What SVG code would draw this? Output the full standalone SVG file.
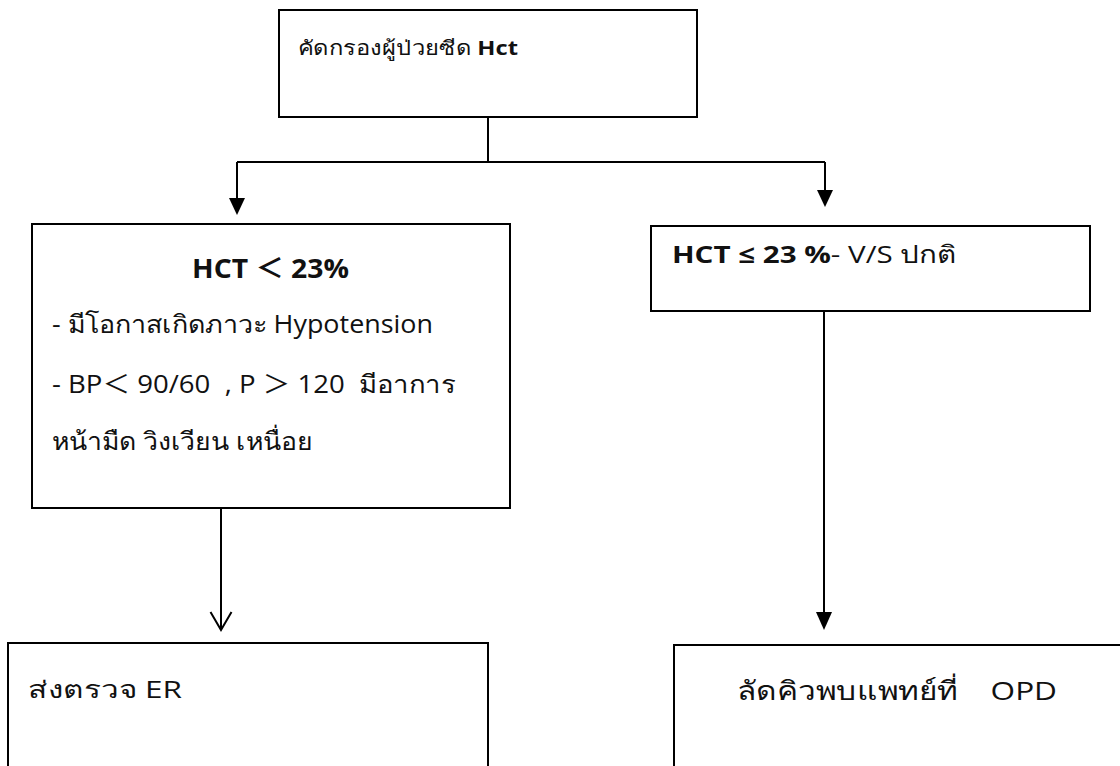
<svg xmlns="http://www.w3.org/2000/svg" width="1120" height="766" viewBox="0 0 1120 766">
  <style>
    .box { fill: #ffffff; stroke: #000000; stroke-width: 2; }
    .wire { fill: none; stroke: #000000; stroke-width: 2; }
    .t { font-family: "Open Sans", "Noto Sans", "Noto Sans CJK SC", sans-serif; fill: #111111; }
    .b { font-weight: bold; }
  </style>

  <!-- connectors -->
  <g id="connectors">
    <path class="wire" d="M488,117 V162"/>
    <path class="wire" d="M237,162 H825"/>
    <path class="wire" d="M237,162 V198"/>
    <path d="M229,198 L245,198 L237,215 Z"/>
    <path class="wire" d="M825,162 V190"/>
    <path d="M817,190 L833,190 L825,207 Z"/>
    <path class="wire" d="M221,508 V629"/>
    <path class="wire" stroke-width="1.5" d="M210.5,612 L221,630 L231.5,612"/>
    <path class="wire" d="M824,311 V612"/>
    <path d="M816,612 L832,612 L824,630 Z"/>
  </g>

  <!-- screening -->
  <g id="screen">
    <rect class="box" x="279" y="10" width="418" height="107"/>
    <text class="t" x="298" y="55" font-size="20" textLength="220" lengthAdjust="spacingAndGlyphs">คัดกรองผู้ป่วยซีด <tspan class="b">Hct</tspan></text>
  </g>

  <!-- low HCT branch -->
  <g id="low">
    <rect class="box" x="32" y="224" width="478" height="284"/>
    <text class="t b" x="192" y="278" font-size="27" textLength="157" lengthAdjust="spacingAndGlyphs">HCT ＜ 23%</text>
    <text class="t" x="52" y="333" font-size="25" textLength="381" lengthAdjust="spacingAndGlyphs">- มีโอกาสเกิดภาวะ Hypotension</text>
    <text class="t" x="52" y="393" font-size="25" textLength="403" lengthAdjust="spacingAndGlyphs" xml:space="preserve">- BP＜ 90/60  , P ＞ 120  มีอาการ</text>
    <text class="t" x="52" y="450" font-size="25" textLength="261" lengthAdjust="spacingAndGlyphs">หน้ามืด วิงเวียน เหนื่อย</text>
  </g>

  <!-- normal vitals branch -->
  <g id="normal">
    <rect class="box" x="651" y="226" width="439" height="85"/>
    <text class="t" x="672" y="263" font-size="24" textLength="285" lengthAdjust="spacingAndGlyphs"><tspan class="b">HCT ≤ 23 %</tspan>- V/S ปกติ</text>
  </g>

  <!-- ER referral -->
  <g id="er">
    <rect class="box" x="8" y="643" width="480" height="140"/>
    <text class="t" x="28" y="698" font-size="24" textLength="154" lengthAdjust="spacingAndGlyphs">ส่งตรวจ ER</text>
  </g>

  <!-- OPD queue -->
  <g id="opd">
    <rect class="box" x="674" y="645" width="470" height="140"/>
    <text class="t" x="737" y="700" font-size="26" textLength="320" lengthAdjust="spacingAndGlyphs" xml:space="preserve">ลัดคิวพบแพทย์ที่    OPD</text>
  </g>
</svg>
